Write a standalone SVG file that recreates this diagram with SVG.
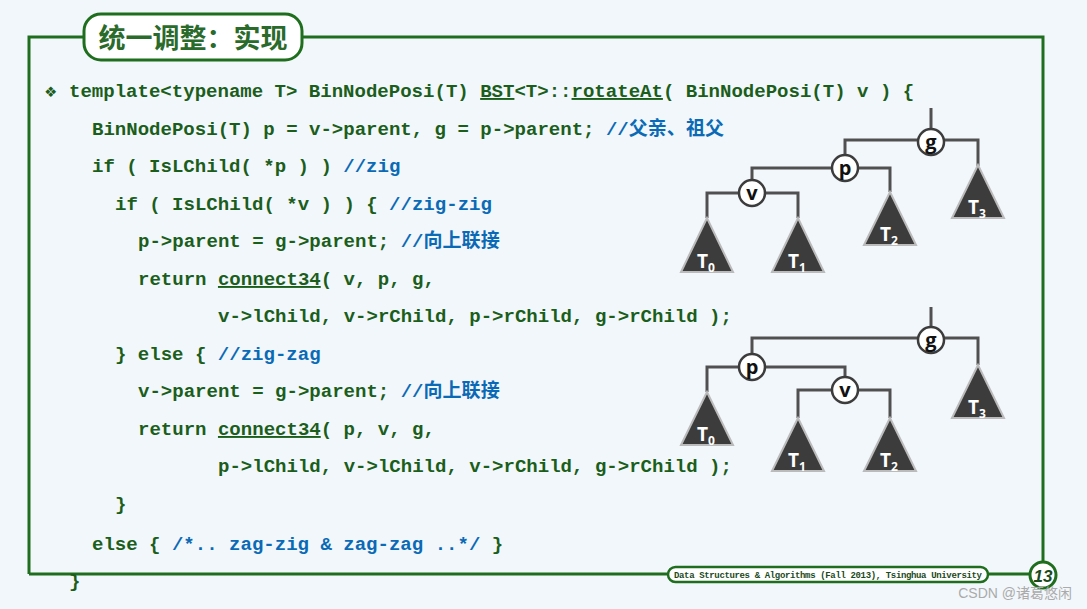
<svg xmlns="http://www.w3.org/2000/svg" width="1087" height="609" viewBox="0 0 1087 609">
<style>
.c{font-family:"Liberation Mono","DejaVu Sans Mono",monospace;font-weight:bold;font-size:19.05px;fill:#1b5e1b;white-space:pre}
.b{fill:#0b6ab5}
.cj{font-family:"Noto Sans CJK SC",sans-serif}
.u{text-decoration:underline}
.fr{stroke:#1e6e1e;stroke-width:3;fill:none}
.e{stroke:#505050;stroke-width:3;fill:none}
.t{fill:#3c3c3c;stroke:#bbbbbb;stroke-width:2}
.n{fill:#fff;stroke:#3c3c3c;stroke-width:2.5}
.nl{font-family:"Open Sans","DejaVu Sans",sans-serif;font-weight:bold;font-size:20px;fill:#111;text-anchor:middle}
.tl{font-family:"Open Sans","DejaVu Sans",sans-serif;font-weight:bold;font-size:19px;fill:#fff}
.ts{font-size:12px}
</style>
<rect width="1087" height="609" fill="#f2f7fb"/>
<g id="frame">
<path class="fr" d="M29 574V37H1043V562M29 574H668"/>
<rect x="84" y="14" width="218" height="46" rx="17" fill="#fff" stroke="#1e6e1e" stroke-width="3"/>
<text x="193" y="48" text-anchor="middle" font-family="Noto Sans CJK SC,sans-serif" font-weight="bold" font-size="27" fill="#2a6a2a">统一调整：实现</text>
<rect x="668" y="567" width="320" height="15" rx="7.5" fill="#fff" stroke="#1e6e1e" stroke-width="2.5"/>
<path class="fr" d="M988 574H1030"/>
<text x="828" y="578" text-anchor="middle" font-family="Liberation Mono,monospace" font-weight="bold" font-size="9" fill="#1b4a1b" textLength="308">Data Structures &amp; Algorithms (Fall 2013), Tsinghua University</text>
<circle cx="1043" cy="575" r="13" fill="#fff" stroke="#1e6e1e" stroke-width="3"/>
<text x="1043" y="582" text-anchor="middle" font-family="Liberation Sans,sans-serif" font-style="italic" font-weight="bold" font-size="17" fill="#1b4a1b">13</text>
<text x="1072" y="598" text-anchor="end" font-family="Liberation Sans,Noto Sans CJK SC,sans-serif" font-size="14" fill="#aaa">CSDN @诸葛悠闲</text>
</g>
<g id="code">
<text x="45" y="97" class="c"><tspan font-size="19">❖</tspan></text>
<text x="69" y="97" class="c">template&lt;typename T&gt; BinNodePosi(T) <tspan class="u">BST</tspan>&lt;T&gt;::<tspan class="u">rotateAt</tspan>( BinNodePosi(T) v ) {</text>
<text x="92" y="135" class="c">BinNodePosi(T) p = v-&gt;parent, g = p-&gt;parent; <tspan class="b">//<tspan class="cj">父亲、祖父</tspan></tspan></text>
<text x="92" y="172" class="c">if ( IsLChild( *p ) ) <tspan class="b">//zig</tspan></text>
<text x="115" y="210" class="c">if ( IsLChild( *v ) ) { <tspan class="b">//zig-zig</tspan></text>
<text x="138" y="247" class="c">p-&gt;parent = g-&gt;parent; <tspan class="b">//<tspan class="cj">向上联接</tspan></tspan></text>
<text x="138" y="285" class="c">return <tspan class="u">connect34</tspan>( v, p, g,</text>
<text x="218" y="322" class="c">v-&gt;lChild, v-&gt;rChild, p-&gt;rChild, g-&gt;rChild );</text>
<text x="115" y="360" class="c">} else { <tspan class="b">//zig-zag</tspan></text>
<text x="138" y="397" class="c">v-&gt;parent = g-&gt;parent; <tspan class="b">//<tspan class="cj">向上联接</tspan></tspan></text>
<text x="138" y="435" class="c">return <tspan class="u">connect34</tspan>( p, v, g,</text>
<text x="218" y="472" class="c">p-&gt;lChild, v-&gt;lChild, v-&gt;rChild, g-&gt;rChild );</text>
<text x="115" y="510" class="c">}</text>
<text x="92" y="550" class="c">else { <tspan class="b">/*.. zag-zig &amp; zag-zag ..*/</tspan> }</text>
<text x="69" y="587" class="c">}</text>
</g>
<g id="connectors">
<path class="e" d="M931 108V142M845 168V140H978V166M752 193V168H890V192M707 218V193H798V218"/>
<path class="e" d="M931 307V340M752 367V338H978V365M707 392V367H845V390M798 418V390H890V418"/>
</g>
<g id="tree1">
<polygon class="t" points="707,218 681,272 733,272"/><text x="697" y="268" class="tl">T<tspan class="ts" dy="4">0</tspan></text>
<polygon class="t" points="798,218 772,272 824,272"/><text x="788" y="268" class="tl">T<tspan class="ts" dy="4">1</tspan></text>
<polygon class="t" points="890,192 864,245 916,245"/><text x="880" y="241" class="tl">T<tspan class="ts" dy="4">2</tspan></text>
<polygon class="t" points="978,165 952,218 1004,218"/><text x="968" y="214" class="tl">T<tspan class="ts" dy="4">3</tspan></text>
<g id="g1"><circle class="n" cx="931" cy="142" r="13"/><text class="nl" x="931" y="149">g</text></g>
<g id="p1"><circle class="n" cx="845" cy="168" r="13"/><text class="nl" x="845" y="175">p</text></g>
<g id="v1"><circle class="n" cx="752" cy="193" r="13"/><text class="nl" x="752" y="200">v</text></g>
</g>
<g id="tree2">
<polygon class="t" points="707,392 681,445 733,445"/><text x="697" y="441" class="tl">T<tspan class="ts" dy="4">0</tspan></text>
<polygon class="t" points="798,418 772,471 824,471"/><text x="788" y="467" class="tl">T<tspan class="ts" dy="4">1</tspan></text>
<polygon class="t" points="890,418 864,471 916,471"/><text x="880" y="467" class="tl">T<tspan class="ts" dy="4">2</tspan></text>
<polygon class="t" points="978,365 952,418 1004,418"/><text x="968" y="414" class="tl">T<tspan class="ts" dy="4">3</tspan></text>
<g id="g2"><circle class="n" cx="931" cy="340" r="13"/><text class="nl" x="931" y="347">g</text></g>
<g id="p2"><circle class="n" cx="752" cy="367" r="13"/><text class="nl" x="752" y="374">p</text></g>
<g id="v2"><circle class="n" cx="845" cy="390" r="13"/><text class="nl" x="845" y="397">v</text></g>
</g>
</svg>
